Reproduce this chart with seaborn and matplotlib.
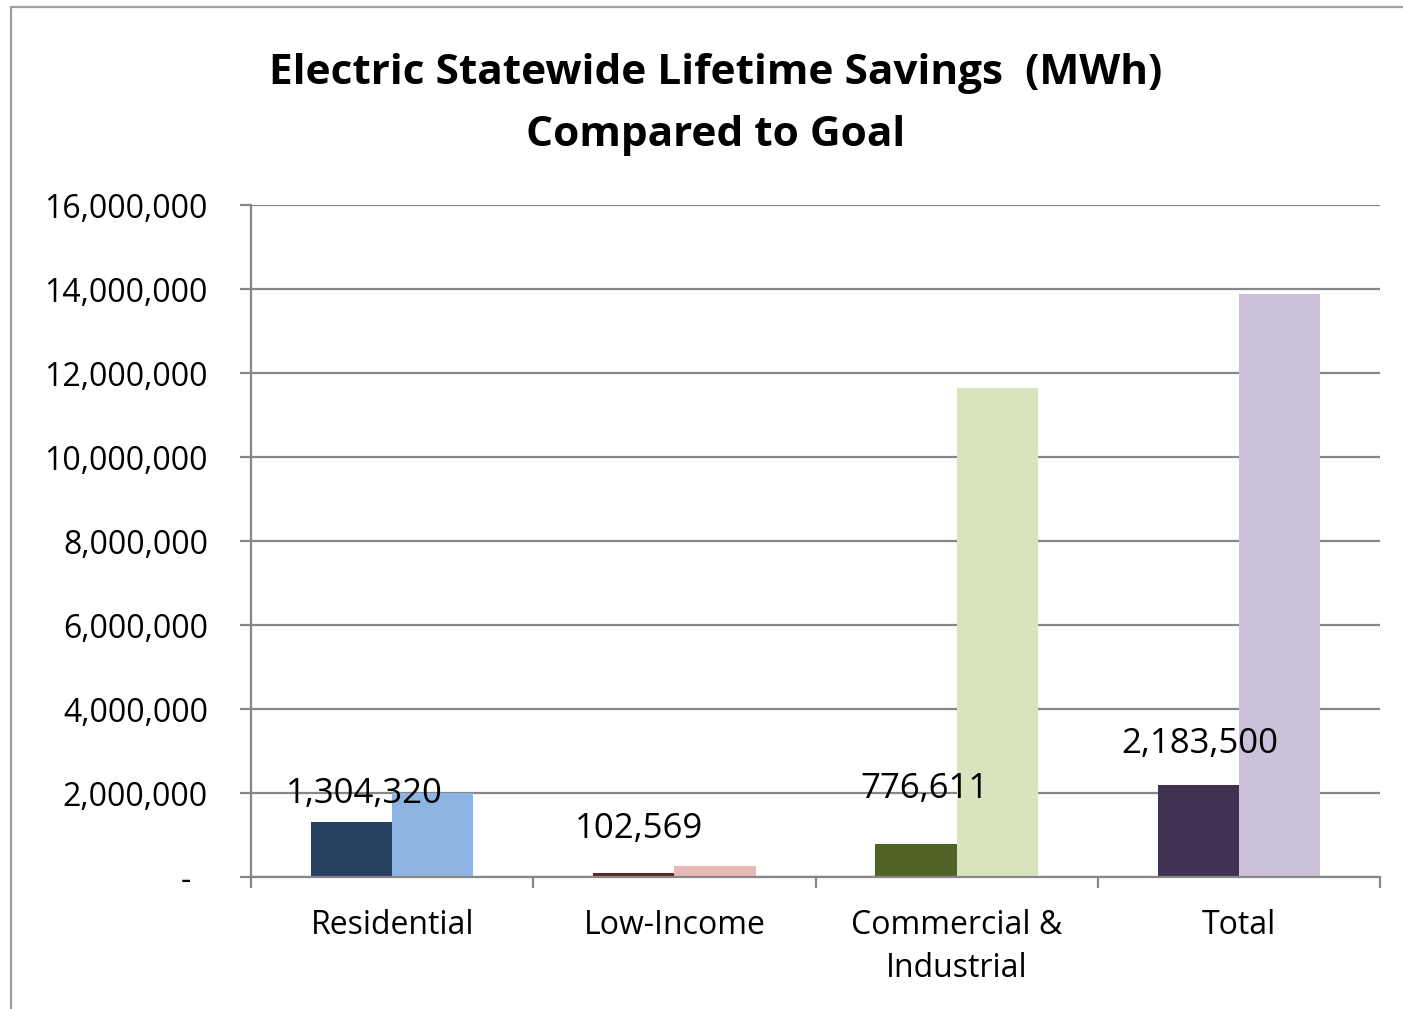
import matplotlib
matplotlib.use("Agg")
import matplotlib.pyplot as plt
import seaborn as sns
import pandas as pd
from matplotlib.lines import Line2D
from matplotlib.ticker import FuncFormatter, FixedLocator

categories = ["Residential", "Low-Income", "Commercial &\nIndustrial", "Total"]
actual = [1304320, 102569, 776611, 2183500]
goal = [1990000, 270000, 11650000, 13880000]
series = ["Actual", "Goal"]
dark_colors = ["#264061", "#632523", "#4F6228", "#403152"]
light_colors = ["#8EB4E3", "#E6B9B8", "#D7E4BD", "#CCC1DA"]
# label offsets (pixels) relative to the top-center of each actual bar
label_dx = [13, 5, 8, 1]
label_dy = [19, 35, 46, 32]

df = pd.DataFrame({
    "category": categories * 2,
    "value": actual + goal,
    "series": [series[0]] * 4 + [series[1]] * 4,
})

sns.set_theme(style="white")
plt.rcParams["font.family"] = ["Open Sans", "DejaVu Sans"]

fig = plt.figure(figsize=(14.03, 10.09), dpi=100)
ax = fig.add_axes([251 / 1403, 1 - 877 / 1009, (1380 - 251) / 1403, (877 - 205) / 1009])

sns.barplot(data=df, x="category", y="value", hue="series", order=categories,
            hue_order=series, ax=ax, width=0.575, gap=0, saturation=1,
            legend=False, errorbar=None)

for cont, cols in zip(ax.containers, [dark_colors, light_colors]):
    for patch, c in zip(cont, cols):
        patch.set_facecolor(c)
        patch.set_edgecolor("none")
        patch.set_linewidth(0)

grid_color = "#878787"
ax.set_ylim(0, 16000000)
ax.set_xlim(-0.5, len(categories) - 0.5)
ax.yaxis.set_major_locator(FixedLocator(range(0, 16000001, 2000000)))
ax.yaxis.set_major_formatter(FuncFormatter(lambda v, p: "-  " if v == 0 else f"{int(v):,}"))
ax.grid(axis="y", color=grid_color, linewidth=1.6)
ax.set_axisbelow(True)
for s in ["top", "right"]:
    ax.spines[s].set_visible(False)
for s in ["left", "bottom"]:
    ax.spines[s].set_color(grid_color)
    ax.spines[s].set_linewidth(1.6)

ax.tick_params(axis="y", which="major", length=8, width=1.6, color=grid_color,
               labelsize=23, pad=23, left=True, labelcolor="black")
ax.set_xticks(range(len(categories)))
ax.set_xticklabels(categories, fontsize=23, linespacing=1.4)
ax.set_xticks([i - 0.5 for i in range(len(categories) + 1)], minor=True)
ax.tick_params(axis="x", which="major", length=0, pad=23, labelcolor="black")
ax.tick_params(axis="x", which="minor", length=8, width=1.6, color=grid_color, bottom=True)
ax.set_xlabel("")
ax.set_ylabel("")

for i, (v, cont) in enumerate(zip(actual, [ax.containers[0]] * 4)):
    p = cont[i]
    xc = p.get_x() + p.get_width() / 2
    ax.annotate(f"{v:,}", xy=(xc, v), xytext=(label_dx[i], label_dy[i]),
                textcoords="offset pixels", ha="center", va="baseline",
                fontsize=25, color="black")

fig.text(716 / 1403, 1 - 84 / 1009, "Electric Statewide Lifetime Savings  (MWh)",
         ha="center", va="baseline", fontsize=30.5, fontweight="bold", color="black")
fig.text(716 / 1403, 1 - 146 / 1009, "Compared to Goal",
         ha="center", va="baseline", fontsize=30.5, fontweight="bold", color="black")

# chart border
fig.add_artist(Line2D([11 / 1403, 11 / 1403], [0, 1 - 7 / 1009], transform=fig.transFigure,
                      color="#A0A0A0", linewidth=1.6))
fig.add_artist(Line2D([11 / 1403, 1], [1 - 7 / 1009, 1 - 7 / 1009], transform=fig.transFigure,
                      color="#A0A0A0", linewidth=1.6))

fig.savefig("out.png", dpi=100)
